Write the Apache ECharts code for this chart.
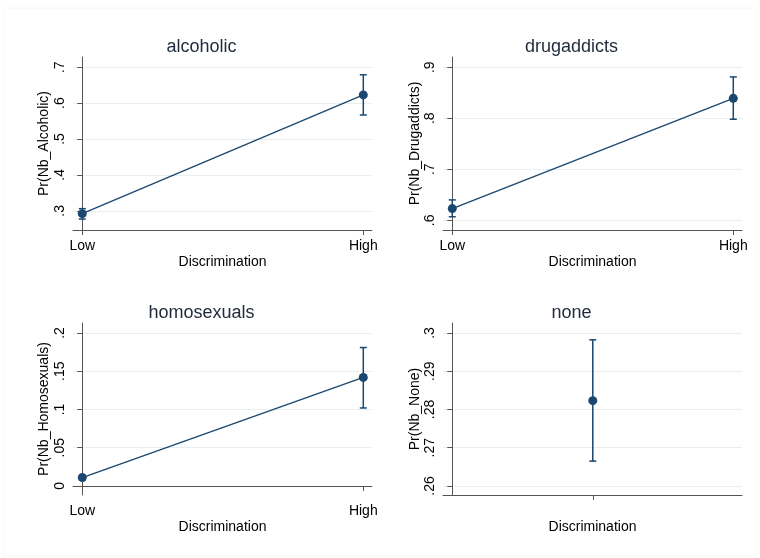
<!DOCTYPE html>
<html>
<head>
<meta charset="utf-8">
<script src="https://cdn.jsdelivr.net/npm/echarts@6/dist/echarts.min.js"></script>
<style>html,body{margin:0;padding:0;background:#fff}#c{width:760px;height:558px}</style>
</head>
<body>
<div id="c"></div>
<script>
// ---- data ----
const categories = ['Low', 'High'];
const catPos = [0, 1];
const panelTitles = ['alcoholic', 'drugaddicts', 'homosexuals', 'none'];
const yNames = ['Pr(Nb_Alcoholic)', 'Pr(Nb_Drugaddicts)', 'Pr(Nb_Homosexuals)', 'Pr(Nb_None)'];
const xName = 'Discrimination';

const alcoholicMean = [0.292, 0.623];
const alcoholicLo = [0.277, 0.567];
const alcoholicHi = [0.306, 0.679];

const drugMean = [0.623, 0.839];
const drugLo = [0.607, 0.798];
const drugHi = [0.640, 0.881];

const homoMean = [0.011, 0.142];
const homoLo = [0.008, 0.102];
const homoHi = [0.014, 0.181];

const noneMean = [0.2823];
const noneLo = [0.2665];
const noneHi = [0.2982];
const nonePos = [0.5];

const alcoholicTicks = [0.3, 0.4, 0.5, 0.6, 0.7];
const drugTicks = [0.6, 0.7, 0.8, 0.9];
const homoTicks = [0, 0.05, 0.1, 0.15, 0.2];
const noneTicks = [0.26, 0.27, 0.28, 0.29, 0.3];

// ---- layout ----
const NAVY = '#1a476f';
const AXIS = '#555';
const GRID = '#e6eff1';
const FONT = 'Liberation Sans, Arial, sans-serif';

const grids = [
  {left: 73, top: 57, width: 299, height: 173},
  {left: 443, top: 57, width: 299, height: 173},
  {left: 73, top: 323, width: 299, height: 172},
  {left: 443, top: 323, width: 299, height: 172}
];
const yRanges = [[0.2465, 0.7286], [0.581, 0.920], [-0.0118, 0.2131], [0.25765, 0.3026]];
const yTicks = [alcoholicTicks, drugTicks, homoTicks, noneTicks];
const yNameGaps = [22, 18, 22, 18];

function fmtTick(v) {
  if (v === 0) return '0';
  return String(v).replace(/^0\./, '.');
}

const xAxes = [], yAxes = [], series = [], titles = [];
grids.forEach((g, i) => {
  const isNone = i === 3;
  xAxes.push({
    type: 'value', gridIndex: i, min: -0.033, max: 1.031,
    name: xName, nameLocation: 'middle', nameGap: 25,
    nameTextStyle: {fontFamily: FONT, fontSize: 14, color: '#000'},
    axisLine: {show: true, lineStyle: {color: AXIS, width: 1}},
    axisTick: {show: true, length: 5, lineStyle: {color: AXIS}, customValues: isNone ? nonePos : catPos},
    axisLabel: {show: !isNone, margin: 9, fontFamily: FONT, fontSize: 14, color: '#000',
      customValues: isNone ? [] : catPos,
      formatter: v => categories[Math.round(v)] || ''},
    splitLine: {show: false}
  });
  yAxes.push({
    type: 'value', gridIndex: i, min: yRanges[i][0], max: yRanges[i][1],
    name: yNames[i], nameLocation: 'middle', nameGap: yNameGaps[i],
    nameTextStyle: {fontFamily: FONT, fontSize: 14, color: '#000'},
    axisLine: {show: true, lineStyle: {color: AXIS, width: 1}},
    axisTick: {show: true, length: 5, lineStyle: {color: AXIS}, customValues: yTicks[i]},
    axisLabel: {rotate: 90, margin: 6, fontFamily: FONT, fontSize: 14, color: '#000',
      customValues: yTicks[i], formatter: fmtTick},
    splitLine: {show: true, lineStyle: {color: GRID, width: 1}}
  });
  titles.push({
    text: panelTitles[i], left: g.left + g.width / 2 - 21, top: g.top - 19,
    textAlign: 'center', padding: 0,
    textStyle: {fontFamily: FONT, fontSize: 18, fontWeight: 'normal', color: '#1f2a3a'}
  });
});

const panelData = [
  [catPos, alcoholicMean, alcoholicLo, alcoholicHi],
  [catPos, drugMean, drugLo, drugHi],
  [catPos, homoMean, homoLo, homoHi],
  [nonePos, noneMean, noneLo, noneHi]
];

panelData.forEach((p, i) => {
  const [xs, m, lo, hi] = p;
  series.push({
    type: 'custom', xAxisIndex: i, yAxisIndex: i, z: 2,
    data: xs.map((x, k) => [x, lo[k], hi[k]]),
    renderItem: (params, api) => {
      const a = api.coord([api.value(0), api.value(1)]);
      const b = api.coord([api.value(0), api.value(2)]);
      const cap = 3.5;
      const st = {stroke: NAVY, lineWidth: 1.5, fill: null};
      return {type: 'group', children: [
        {type: 'line', shape: {x1: a[0], y1: a[1], x2: b[0], y2: b[1]}, style: st},
        {type: 'line', shape: {x1: a[0] - cap, y1: a[1], x2: a[0] + cap, y2: a[1]}, style: st},
        {type: 'line', shape: {x1: b[0] - cap, y1: b[1], x2: b[0] + cap, y2: b[1]}, style: st}
      ]};
    }
  });
  series.push({
    type: 'line', xAxisIndex: i, yAxisIndex: i, z: 3,
    data: xs.map((x, k) => [x, m[k]]),
    symbol: 'circle', symbolSize: 9, showSymbol: true,
    lineStyle: {color: NAVY, width: 1.3},
    itemStyle: {color: NAVY},
    animation: false
  });
});

const chart = echarts.init(document.getElementById('c'), null, {renderer: 'canvas'});
chart.setOption({
  animation: false,
  backgroundColor: '#fff',
  title: titles,
  grid: grids.map(g => Object.assign({containLabel: false}, g)),
  xAxis: xAxes,
  yAxis: yAxes,
  series: series,
  graphic: [{type: 'rect', shape: {x: 4, y: 8, width: 752, height: 548},
    style: {fill: null, stroke: '#f6f6f6', lineWidth: 1}, silent: true, z: -10}]
});
</script>
</body>
</html>
